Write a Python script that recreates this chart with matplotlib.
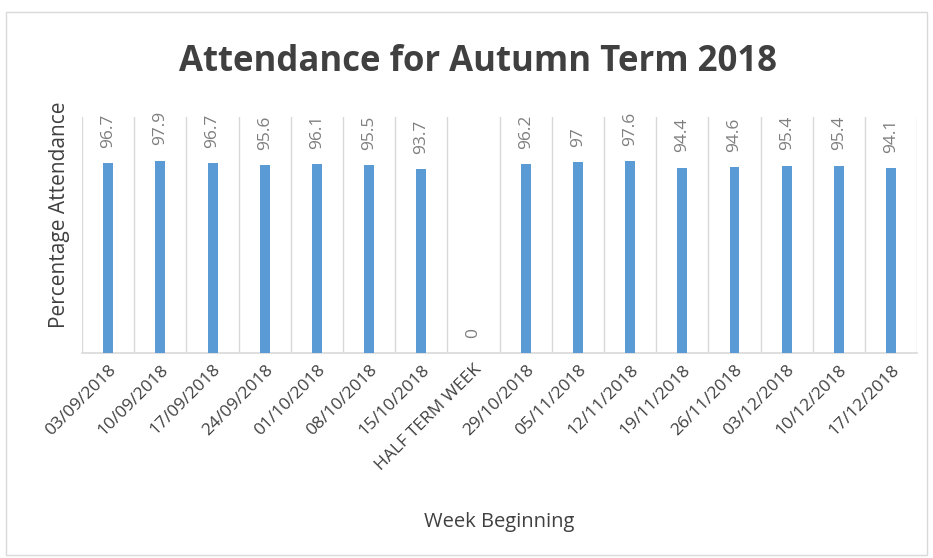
import matplotlib.pyplot as plt
from matplotlib.patches import Rectangle

weeks = [
    "03/09/2018", "10/09/2018", "17/09/2018", "24/09/2018", "01/10/2018",
    "08/10/2018", "15/10/2018", "HALF TERM WEEK", "29/10/2018", "05/11/2018",
    "12/11/2018", "19/11/2018", "26/11/2018", "03/12/2018", "10/12/2018",
    "17/12/2018"
]
attendance = [96.7, 97.9, 96.7, 95.6, 96.1, 95.5, 93.7, 0, 96.2, 97,
              97.6, 94.4, 94.6, 95.4, 95.4, 94.1]

plt.rcParams["font.family"] = ["Open Sans", "DejaVu Sans"]

fig = plt.figure(figsize=(9.33, 5.58), dpi=100)
ax = fig.add_axes([0.088, 0.367, 0.895, 0.423])

x = list(range(len(weeks)))
ax.bar(x, attendance, width=0.19, color="#5B9BD5", zorder=3)

# value labels, rotated like the original
for xi, v in zip(x, attendance):
    ax.annotate(
        f"{v:g}", (xi, v), xytext=(0, 11), textcoords="offset points",
        rotation=90, ha="center", va="bottom", fontsize=12.5, color="#7F7F7F"
    )

ax.set_xlim(-0.5, len(weeks) - 0.5)
ax.set_ylim(0, 120)

# vertical separators between categories
for b in range(len(weeks) + 1):
    ax.axvline(b - 0.5, color="#D9D9D9", lw=1, zorder=1)

ax.set_xticks(x)
ax.set_xticklabels(weeks, rotation=45, ha="right", rotation_mode="anchor",
                   fontsize=12.5, color="#404040")
ax.tick_params(axis="x", length=0, pad=6)
ax.set_yticks([])

for s in ["top", "left", "right"]:
    ax.spines[s].set_visible(False)
ax.spines["bottom"].set_color("#D9D9D9")
ax.spines["bottom"].set_linewidth(1.2)

ax.set_ylabel("Percentage Attendance", fontsize=15, color="#404040")
ax.yaxis.set_label_coords(-0.014, 0.585)
fig.text(0.535, 0.055, "Week Beginning", ha="center", fontsize=14.5, color="#404040")
fig.text(0.512, 0.873, "Attendance for Autumn Term 2018", ha="center",
         fontsize=25, fontweight="bold", color="#404040")

fig.patches.append(Rectangle((0.006, 0.005), 0.988, 0.973, transform=fig.transFigure,
                             fill=False, edgecolor="#D9D9D9", lw=1))

plt.savefig("out.png", dpi=100)
plt.close()
